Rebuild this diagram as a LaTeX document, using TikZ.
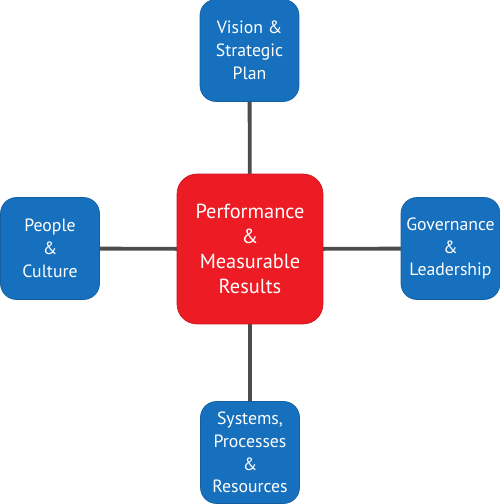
\documentclass[tikz,border=0pt]{standalone}
\usepackage{fontspec}
\setmainfont{PT Sans}
\usepackage{xcolor}
\usepackage{tikz}
\usetikzlibrary{positioning,backgrounds}
\definecolor{pillarblue}{RGB}{22,112,189}
\definecolor{corered}{RGB}{237,28,36}
\definecolor{spokegray}{RGB}{77,77,77}
\tikzset{
  pillar/.style={rectangle, rounded corners=0.32cm, draw=pillarblue!85!black, line width=0.4pt,
                 fill=pillarblue, text=white, minimum width=1.98cm, minimum height=2.04cm,
                 inner sep=0pt, align=center, font=\fontsize{10.1}{13}\selectfont},
  core/.style={rectangle, rounded corners=0.4cm, draw=corered!85!black, line width=0.4pt,
               fill=corered, text=white, minimum width=2.92cm, minimum height=3.0cm,
               inner sep=0pt, align=center, font=\fontsize{11.6}{14.3}\selectfont},
  spoke/.style={line width=2.2pt, spokegray},
}
\begin{document}
\begin{tikzpicture}[x=0.02cm, y=-0.02cm]
    \useasboundingbox (0,0) rectangle (500,504);

    \node[core]   (perf)    at (250,249)     {Performance\\\&\\Measurable\\Results};
    \node[pillar] (vision)  at (249.5,50.5)  {Vision \&\\Strategic\\Plan};
    \node[pillar] (people)  at (50,248.5)    {People\\\&\\Culture};
    \node[pillar] (govern)  at (450.5,248.5) {Governance\\\&\\Leadership};
    \node[pillar] (systems) at (250,452.5)   {Systems,\\Processes\\\&\\Resources};

    % spokes behind the boxes
    \begin{scope}[on background layer]
      \foreach \n in {vision,people,govern,systems}
        \draw[spoke] (perf.center) -- (\n.center);
    \end{scope}
  \end{tikzpicture}
\end{document}
